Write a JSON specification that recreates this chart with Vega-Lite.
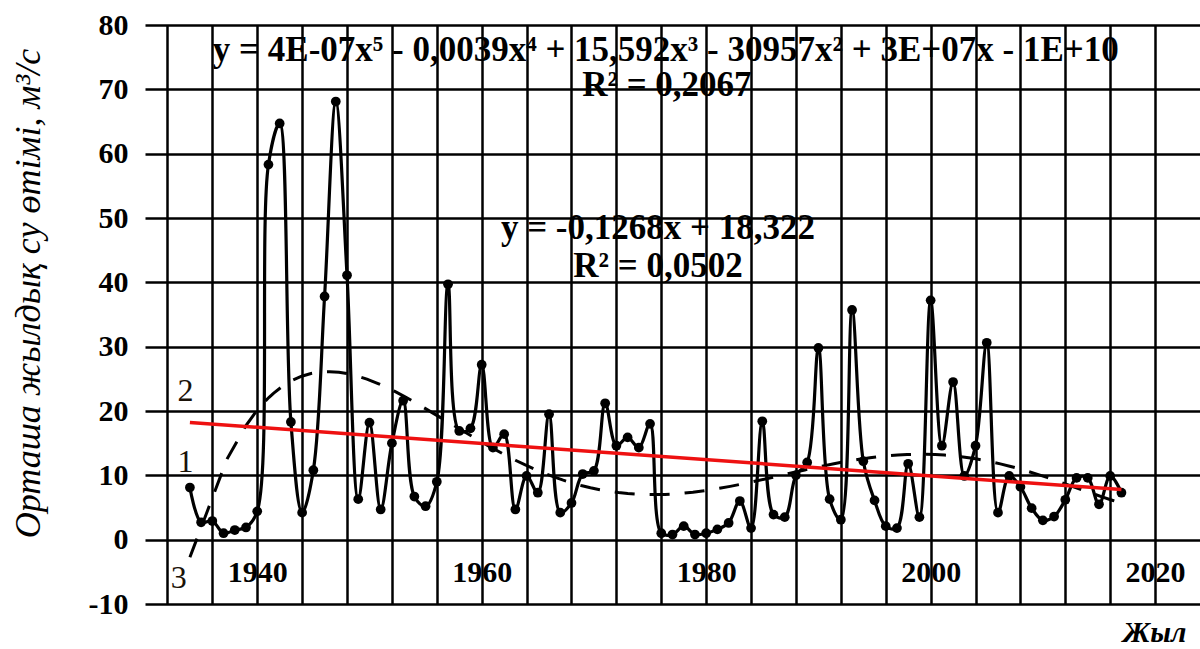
{
  "$schema": "https://vega.github.io/schema/vega-lite/v6.json",
  "width": 1055,
  "height": 579,
  "autosize": {"type": "none"},
  "padding": {"left": 145, "top": 25, "right": 0, "bottom": 45},
  "background": "white",
  "config": {"view": {"stroke": null}},
  "datasets": {
    "flow": [
      {"year": 1934, "q": 8.1}, {"year": 1935, "q": 2.7}, {"year": 1936, "q": 2.9}, {"year": 1937, "q": 1.0},
      {"year": 1938, "q": 1.5}, {"year": 1939, "q": 1.9}, {"year": 1940, "q": 4.4}, {"year": 1941, "q": 58.3},
      {"year": 1942, "q": 64.7}, {"year": 1943, "q": 18.3}, {"year": 1944, "q": 4.2}, {"year": 1945, "q": 10.8},
      {"year": 1946, "q": 37.8}, {"year": 1947, "q": 68.1}, {"year": 1948, "q": 41.1}, {"year": 1949, "q": 6.3},
      {"year": 1950, "q": 18.2}, {"year": 1951, "q": 4.7}, {"year": 1952, "q": 15.0}, {"year": 1953, "q": 21.6},
      {"year": 1954, "q": 6.7}, {"year": 1955, "q": 5.2}, {"year": 1956, "q": 9.0}, {"year": 1957, "q": 39.7},
      {"year": 1958, "q": 16.9}, {"year": 1959, "q": 17.3}, {"year": 1960, "q": 27.2}, {"year": 1961, "q": 14.3},
      {"year": 1962, "q": 16.4}, {"year": 1963, "q": 4.7}, {"year": 1964, "q": 9.9}, {"year": 1965, "q": 7.3},
      {"year": 1966, "q": 19.5}, {"year": 1967, "q": 4.2}, {"year": 1968, "q": 5.7}, {"year": 1969, "q": 10.2},
      {"year": 1970, "q": 10.7}, {"year": 1971, "q": 21.2}, {"year": 1972, "q": 14.6}, {"year": 1973, "q": 15.9},
      {"year": 1974, "q": 14.3}, {"year": 1975, "q": 18.0}, {"year": 1976, "q": 1.0}, {"year": 1977, "q": 0.8},
      {"year": 1978, "q": 2.1}, {"year": 1979, "q": 0.8}, {"year": 1980, "q": 1.0}, {"year": 1981, "q": 1.6},
      {"year": 1982, "q": 2.6}, {"year": 1983, "q": 6.0}, {"year": 1984, "q": 1.8}, {"year": 1985, "q": 18.4},
      {"year": 1986, "q": 3.9}, {"year": 1987, "q": 3.5}, {"year": 1988, "q": 10.0}, {"year": 1989, "q": 12.0},
      {"year": 1990, "q": 29.8}, {"year": 1991, "q": 6.3}, {"year": 1992, "q": 3.1}, {"year": 1993, "q": 35.7},
      {"year": 1994, "q": 12.2}, {"year": 1995, "q": 6.1}, {"year": 1996, "q": 2.1}, {"year": 1997, "q": 1.8},
      {"year": 1998, "q": 11.8}, {"year": 1999, "q": 3.5}, {"year": 2000, "q": 37.2}, {"year": 2001, "q": 14.6},
      {"year": 2002, "q": 24.5}, {"year": 2003, "q": 9.9}, {"year": 2004, "q": 14.6}, {"year": 2005, "q": 30.6},
      {"year": 2006, "q": 4.2}, {"year": 2007, "q": 9.9}, {"year": 2008, "q": 8.2}, {"year": 2009, "q": 4.9},
      {"year": 2010, "q": 3.0}, {"year": 2011, "q": 3.6}, {"year": 2012, "q": 6.2}, {"year": 2013, "q": 9.6},
      {"year": 2014, "q": 9.6}, {"year": 2015, "q": 5.5}, {"year": 2016, "q": 9.9}, {"year": 2017, "q": 7.3}
    ],
    "notes": [
      {"label": "y = 4E-07x⁵ - 0,0039x⁴ + 15,592x³ - 30957x² + 3E+07x - 1E+10", "year": 1976.4, "q": 76.1},
      {"label": "R² = 0,2067", "year": 1976.5, "q": 70.6},
      {"label": "y = -0,1268x + 18,322", "year": 1975.7, "q": 48.4},
      {"label": "R² = 0,0502", "year": 1975.7, "q": 42.5}
    ],
    "marks": [
      {"label": "2", "year": 1933.6, "q": 23.1},
      {"label": "1", "year": 1933.6, "q": 12.0},
      {"label": "3", "year": 1933.0, "q": -5.9}
    ]
  },
  "layer": [
    {
      "data": {"name": "flow"},
      "mark": {"type": "line", "color": "black", "strokeWidth": 3.2, "interpolate": "catmull-rom"},
      "encoding": {
        "x": {
          "field": "year", "type": "quantitative",
          "scale": {"domain": [1930, 2024], "nice": false, "zero": false},
          "axis": {
            "values": [1932, 1936, 1940, 1944, 1948, 1952, 1956, 1960, 1964, 1968, 1972, 1976, 1980, 1984, 1988, 1992, 1996, 2000, 2004, 2008, 2012, 2016, 2020],
            "format": "d",
            "labelExpr": "datum.value % 20 == 0 ? datum.label : ''",
            "grid": true, "gridColor": "black", "gridWidth": 2.5, "gridOpacity": 1,
            "domain": false, "ticks": false,
            "labelPadding": -47, "labelFont": "Liberation Serif", "labelFontWeight": "bold", "labelFontSize": 30,
            "labelColor": "black", "labelOverlap": false, "labelFlush": false,
            "title": "Жыл", "titleFont": "Liberation Serif", "titleFontStyle": "italic", "titleFontWeight": "bold",
            "titleFontSize": 30, "titleColor": "black", "titleX": 1009, "titleY": 28, "titleAlign": "center", "titleBaseline": "middle"
          }
        },
        "y": {
          "field": "q", "type": "quantitative",
          "scale": {"domain": [-10, 80], "nice": false, "zero": false},
          "axis": {
            "values": [-10, 0, 10, 20, 30, 40, 50, 60, 70, 80],
            "labelExpr": "datum.value + ''",
            "grid": true, "gridColor": "black", "gridWidth": 2.5, "gridOpacity": 1,
            "domain": false, "ticks": false,
            "labelPadding": 17, "labelFont": "Liberation Serif", "labelFontWeight": "bold", "labelFontSize": 30,
            "labelColor": "black",
            "title": "Орташа жылдық су  өтімі, м³/с", "titleFont": "Liberation Serif", "titleFontStyle": "italic",
            "titleFontWeight": "normal", "titleFontSize": 36, "titleColor": "black", "titleX": -117, "titleY": 268,
            "titleAngle": -90, "titleAlign": "center", "titleBaseline": "middle"
          }
        }
      }
    },
    {
      "data": {"name": "flow"},
      "mark": {"type": "circle", "color": "black", "size": 95, "opacity": 1},
      "encoding": {
        "x": {"field": "year", "type": "quantitative"},
        "y": {"field": "q", "type": "quantitative"}
      }
    },
    {
      "data": {"name": "flow"},
      "transform": [{"regression": "q", "on": "year", "method": "poly", "order": 5, "extent": [1934, 2017]}],
      "mark": {"type": "line", "color": "black", "strokeWidth": 3, "strokeDash": [20, 15]},
      "encoding": {
        "x": {"field": "year", "type": "quantitative"},
        "y": {"field": "q", "type": "quantitative"}
      }
    },
    {
      "data": {"name": "flow"},
      "transform": [{"regression": "q", "on": "year", "method": "linear", "extent": [1934, 2017]}],
      "mark": {"type": "line", "color": "#ee1111", "strokeWidth": 3.5},
      "encoding": {
        "x": {"field": "year", "type": "quantitative"},
        "y": {"field": "q", "type": "quantitative"}
      }
    },
    {
      "data": {"name": "notes"},
      "mark": {"type": "text", "font": "Liberation Serif", "fontWeight": "bold", "fontSize": 35, "color": "black", "align": "center", "baseline": "middle"},
      "encoding": {
        "x": {"field": "year", "type": "quantitative"},
        "y": {"field": "q", "type": "quantitative"},
        "text": {"field": "label"}
      }
    },
    {
      "data": {"name": "marks"},
      "mark": {"type": "text", "font": "Liberation Serif", "fontSize": 32, "color": "#1a1208", "align": "center", "baseline": "middle"},
      "encoding": {
        "x": {"field": "year", "type": "quantitative"},
        "y": {"field": "q", "type": "quantitative"},
        "text": {"field": "label"}
      }
    }
  ]
}
